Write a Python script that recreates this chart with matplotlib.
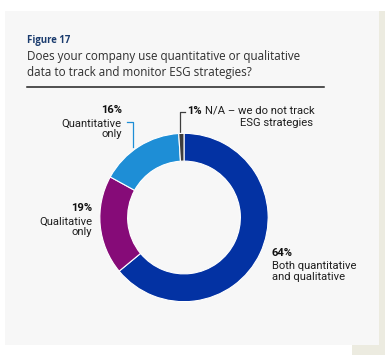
import matplotlib
matplotlib.use('Agg')
import matplotlib.pyplot as plt
from matplotlib.patches import Rectangle

# 数据
categories = ['Both quantitative\nand qualitative', 'Qualitative\nonly',
              'Quantitative\nonly', 'N/A \u2013 we do not track\nESG strategies']
shares = [64, 19, 16, 1]
colors = ['#0332a3', '#860b78', '#1e8ed6', '#3d3d3d']

plt.rcParams['font.family'] = ['Roboto', 'DejaVu Sans']

W, H = 385, 355
fig = plt.figure(figsize=(W / 100, H / 100), dpi=100)
fig.patch.set_facecolor('white')

# 背景层，像素坐标
bg = fig.add_axes([0, 0, 1, 1])
bg.set_xlim(0, W)
bg.set_ylim(H, 0)
bg.axis('off')
bg.add_patch(Rectangle((379, 11), 6, 344, color='#ecebe0', lw=0))
bg.add_patch(Rectangle((352, 345), 33, 10, color='#ecebe0', lw=0))
bg.add_patch(Rectangle((5, 11), 374, 334, color='#f7f7f7', lw=0))

bg.text(27, 40, 'Figure 17', fontsize=6.9, fontweight='bold', color='#1b3c6e',
        va='center', family=['Open Sans', 'DejaVu Sans'])
bg.text(27, 64.5, 'Does your company use quantitative or qualitative\n'
        'data to track and monitor ESG strategies?', fontsize=8.4,
        color='#2e2e2e', va='center', linespacing=1.3,
        family=['Open Sans', 'DejaVu Sans'])
bg.plot([27, 324], [87, 87], color='#222222', lw=1.1)

# 环形图
ax = fig.add_axes([99 / W, (H - 302.5) / H, 170 / W, 170 / H])
ax.pie(shares, colors=colors, startangle=90, counterclock=False,
       radius=1, wedgeprops=dict(width=0.33, edgecolor='white', linewidth=0.8))
ax.set_xlim(-1.01, 1.01)
ax.set_ylim(-1.01, 1.01)
ax.set_aspect('auto')
ax.axis('off')

fs = 8.1
ls = 1.05
tc = '#1e1e1e'
# 64%
bg.text(272, 253, f'{shares[0]}%', fontsize=fs, fontweight='bold', color='#111111', va='center')
bg.text(272, 271.5, categories[0], fontsize=fs, color=tc, va='center', linespacing=ls)
# 19%
bg.text(92, 208, f'{shares[1]}%', fontsize=fs, fontweight='bold', color='#111111', va='center', ha='right')
bg.text(92, 227, categories[1], fontsize=fs, color=tc, va='center', ha='right',
        multialignment='right', linespacing=ls)
# 16%
bg.text(122, 110, f'{shares[2]}%', fontsize=fs, fontweight='bold', color='#111111', va='center', ha='right')
bg.text(122, 129, categories[2], fontsize=fs, color=tc, va='center', ha='right',
        multialignment='right', linespacing=ls)
bg.plot([127, 133, 133], [122, 122, 147], color='#1e8ed6', lw=0.9)
# 1%
na_line1, na_line2 = categories[3].split('\n')
bg.text(187, 111, f'{shares[3]}%', fontsize=fs, fontweight='bold', color='#111111', va='center')
bg.text(205, 111, na_line1, fontsize=fs, color=tc, va='center')
bg.text(313, 123.5, na_line2, fontsize=fs, color=tc, va='center', ha='right')
bg.plot([185, 180, 180], [112, 112, 132], color='#3d3d3d', lw=0.9)

fig.savefig('out.png', dpi=100)
